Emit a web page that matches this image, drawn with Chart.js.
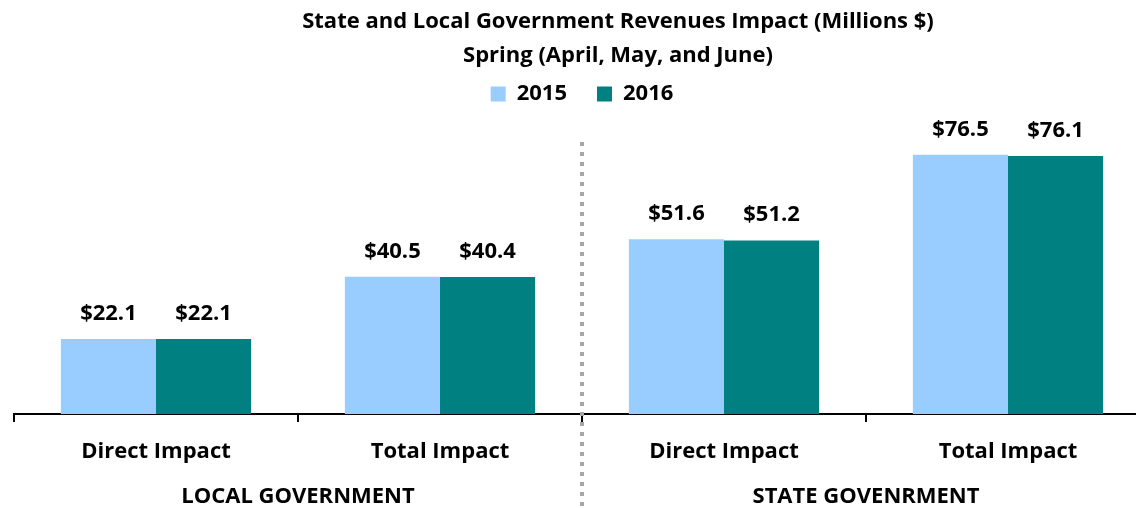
<!DOCTYPE html>
<html>
<head>
<meta charset="utf-8">
<script src="https://cdn.jsdelivr.net/npm/chart.js@4/dist/chart.umd.min.js"></script>
<style>
  body { margin: 0; overflow: hidden; background: #fff; width: 1136px; height: 508px; }
  #wrap { width: 1160px; height: 508px; }
</style>
</head>
<body>
<div id="wrap"><canvas id="chart"></canvas></div>
<script>
const categories = ['Direct Impact', 'Total Impact', 'Direct Impact', 'Total Impact'];
const groups = ['LOCAL GOVERNMENT', 'STATE GOVENRMENT'];
const values2015 = [22.1, 40.5, 51.6, 76.5];
const values2016 = [22.1, 40.4, 51.2, 76.1];
const titleLines = ['State and Local Government Revenues Impact (Millions $)', 'Spring (April, May, and June)'];

const FONT = '"Open Sans", sans-serif';

// nudge the legend down a little without moving the plot
const legendShift = {
    id: 'legendShift',
    afterLayout(chart) {
        chart.legend.top += 6;
        chart.legend.bottom += 6;
    }
};

// title, data labels and the dotted divider
const extras = {
    id: 'extras',
    afterDatasetsDraw(chart) {
        const ctx = chart.ctx;
        ctx.save();
        ctx.fillStyle = '#000';
        ctx.font = 'bold 22px ' + FONT;
        ctx.textAlign = 'center';
        ctx.textBaseline = 'alphabetic';
        chart.data.datasets.forEach((ds, i) => {
            chart.getDatasetMeta(i).data.forEach((bar, j) => {
                ctx.fillText('$' + ds.data[j].toFixed(1), bar.x, bar.y - 19);
            });
        });
        ctx.fillText(titleLines[0], 618, 28);
        ctx.fillText(titleLines[1], 618, 62);

        const x = chart.scales.x;
        const mid = (x.getPixelForTick(1) + x.getPixelForTick(2)) / 2;
        ctx.strokeStyle = '#a6a6a6';
        ctx.lineWidth = 4;
        ctx.setLineDash([4, 6]);
        ctx.beginPath();
        ctx.moveTo(mid, 142);
        ctx.lineTo(mid, 508);
        ctx.stroke();
        ctx.restore();
    }
};

new Chart(document.getElementById('chart'), {
    type: 'bar',
    data: {
        labels: categories,
        datasets: [
            { label: '2015', data: values2015, backgroundColor: '#99ccff' },
            { label: '2016', data: values2016, backgroundColor: '#008080' }
        ]
    },
    options: {
        responsive: true,
        maintainAspectRatio: false,
        animation: false,
        categoryPercentage: 0.67,
        barPercentage: 1.0,
        layout: { padding: { top: 47, left: 14, right: 10, bottom: 0 } },
        plugins: {
            legend: {
                labels: {
                    color: '#000',
                    font: { family: FONT, size: 22, weight: 'bold' },
                    boxWidth: 15,
                    boxHeight: 15,
                    padding: 30
                }
            },
            tooltip: { enabled: false }
        },
        scales: {
            y: { display: false, min: 0, max: 90 },
            x: {
                grid: { offset: true, drawOnChartArea: false, color: '#000', tickLength: 8, lineWidth: 2 },
                border: { color: '#000', width: 2 },
                ticks: { color: '#000', font: { family: FONT, size: 22, weight: 'bold' }, padding: 17 },
                afterFit(s) { s.height = 50; }
            },
            groups: {
                type: 'category',
                position: 'bottom',
                labels: groups,
                offset: true,
                grid: { display: false },
                border: { display: false },
                ticks: { color: '#000', font: { family: FONT, size: 22, weight: 'bold' }, padding: 12 },
                afterFit(s) { s.height = 44; }
            }
        }
    },
    plugins: [extras, legendShift]
});
</script>
</body>
</html>
